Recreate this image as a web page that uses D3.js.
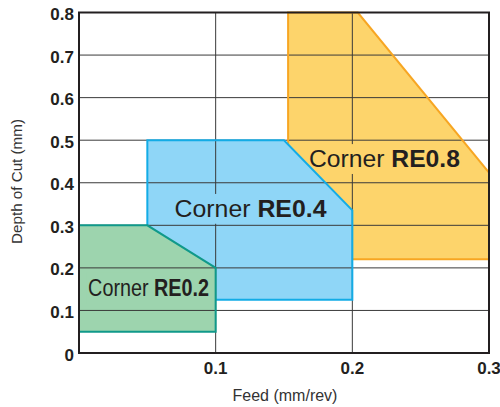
<!DOCTYPE html>
<html>
<head>
<meta charset="utf-8">
<script src="https://cdn.jsdelivr.net/npm/d3@7"></script>
<style>
  body { margin: 0; background: #fff; }
  svg { display: block; font-family: "Liberation Sans", Arial, sans-serif; }
</style>
</head>
<body>
<div id="chart"></div>
<script>
// Data.
const xTicks = [0.1, 0.2, 0.3];
const yTicks = [0, 0.1, 0.2, 0.3, 0.4, 0.5, 0.6, 0.7, 0.8];
const cornerNames = ['RE0.8', 'RE0.4', 'RE0.2'];

// Outline of each area, feed (mm/rev) and depth of cut (mm).
const re08Feed = [0.153, 0.153, 0.204, 0.3, 0.3];
const re08Depth = [0.22, 0.8, 0.8, 0.424, 0.22];
const re04Feed = [0.05, 0.05, 0.15, 0.2, 0.2];
const re04Depth = [0.125, 0.5, 0.5, 0.335, 0.125];
const re02Feed = [0, 0, 0.05, 0.1, 0.1];
const re02Depth = [0.05, 0.3, 0.3, 0.2, 0.05];

// Margin convention.
const width = 500, height = 407;
const margin = { top: 12.5, right: 11, bottom: 54, left: 79 };

const xScale = d3.scaleLinear().domain([0, 0.3]).range([margin.left, width - margin.right]);
const yScale = d3.scaleLinear().domain([0, 0.8]).range([height - margin.bottom, margin.top]);

const svg = d3.select('#chart')
  .append('svg')
  .attr('width', width)
  .attr('height', height);

const areas = [
  { name: cornerNames[0], feed: re08Feed, depth: re08Depth, fill: '#fdd46b', stroke: '#f7a623',
    label: [0.2235, 0.437], size: 24.5, len: 151 },
  { name: cornerNames[1], feed: re04Feed, depth: re04Depth, fill: '#8fd6f7', stroke: '#13ace6',
    label: [0.1255, 0.32], size: 24.5, len: 152 },
  { name: cornerNames[2], feed: re02Feed, depth: re02Depth, fill: '#9dd4ae', stroke: '#10998a',
    label: [0.0509, 0.134], size: 24.5, len: 121 }
];

const line = d3.line().x(d => xScale(d[0])).y(d => yScale(d[1]));
const shape = d => line(d3.zip(d.feed, d.depth)) + 'Z';

// Grid drawer, optionally clipped to one area.
function drawGrid(parent, clipId) {
  const grid = parent.append('g')
    .attr('class', 'grid')
    .attr('stroke', '#3a3a3a')
    .attr('stroke-width', 1);
  if (clipId) grid.attr('clip-path', `url(#${clipId})`);

  grid.selectAll('.h')
    .data(yTicks.filter(d => d > 0 && d < 0.8))
    .join('line')
    .attr('class', 'h')
    .attr('x1', xScale(0)).attr('x2', xScale(0.3))
    .attr('y1', d => yScale(d)).attr('y2', d => yScale(d));

  grid.selectAll('.v')
    .data(xTicks.filter(d => d < 0.3))
    .join('line')
    .attr('class', 'v')
    .attr('x1', d => xScale(d)).attr('x2', d => xScale(d))
    .attr('y1', yScale(0)).attr('y2', yScale(0.8));
}

const defs = svg.append('defs');
const textLayer = [];

// Layers, bottom to top: fill, grid, label patch, outline.
areas.forEach((a, i) => {
  const layer = svg.append('g').attr('class', 'layer');
  const clipId = `clip${i}`;
  defs.append('clipPath').attr('id', clipId).append('path').attr('d', shape(a));

  layer.append('path').attr('d', shape(a)).attr('fill', a.fill);
  // Bottom layer carries the full grid; upper layers redraw it inside their shape.
  drawGrid(layer, i === 0 ? null : clipId);

  // Label: regular "Corner" + bold name, squeezed to reference width.
  const lx = xScale(a.label[0]), ly = yScale(a.label[1]);
  const patch = layer.append('rect').attr('fill', a.fill);
  const tg = svg.append('g');
  const t = tg.append('text')
    .attr('text-anchor', 'middle')
    .attr('font-size', a.size)
    .attr('fill', '#231f20');
  t.append('tspan').text('Corner ');
  t.append('tspan').attr('font-weight', 'bold').text(a.name);
  const natural = t.node().getComputedTextLength();
  const sx = a.len / natural;
  tg.attr('transform', `translate(${lx},${ly}) scale(${sx},1)`);
  const bb = t.node().getBBox();
  patch
    .attr('x', lx + bb.x * sx - 2).attr('y', ly + bb.y - 1)
    .attr('width', bb.width * sx + 4).attr('height', bb.height + 3);
  textLayer.push(tg);

  layer.append('path')
    .attr('d', shape(a))
    .attr('fill', 'none')
    .attr('stroke', a.stroke)
    .attr('stroke-width', 2);
});

// Keep text above all layers.
textLayer.forEach(g => g.raise());

// Frame.
svg.append('rect')
  .attr('x', xScale(0)).attr('y', yScale(0.8))
  .attr('width', xScale(0.3) - xScale(0))
  .attr('height', yScale(0) - yScale(0.8))
  .attr('fill', 'none')
  .attr('stroke', '#231f20')
  .attr('stroke-width', 2);

// Axes tick labels.
svg.append('g').attr('class', 'y axis')
  .selectAll('text')
  .data(yTicks)
  .join('text')
  .attr('x', xScale(0) - 5)
  .attr('y', d => yScale(d) + 7.5)
  .attr('text-anchor', 'end')
  .attr('font-size', 17)
  .attr('font-weight', 'bold')
  .attr('fill', '#231f20')
  .text(d => d === 0 ? '0' : d3.format('.1f')(d));

svg.append('g').attr('class', 'x axis')
  .selectAll('text')
  .data(xTicks)
  .join('text')
  .attr('x', d => xScale(d))
  .attr('y', 374)
  .attr('text-anchor', 'middle')
  .attr('font-size', 17)
  .attr('font-weight', 'bold')
  .attr('fill', '#231f20')
  .text(d => d3.format('.1f')(d));

// Axis titles.
svg.append('text')
  .attr('x', (xScale(0) + xScale(0.3)) / 2 + 1)
  .attr('y', 401)
  .attr('text-anchor', 'middle')
  .attr('font-size', 16)
  .attr('fill', '#333')
  .text('Feed (mm/rev)');

svg.append('text')
  .attr('transform', 'translate(22,181.5) rotate(-90)')
  .attr('text-anchor', 'middle')
  .attr('font-size', 15.2)
  .attr('fill', '#333')
  .text('Depth of Cut (mm)');
</script>
</body>
</html>
